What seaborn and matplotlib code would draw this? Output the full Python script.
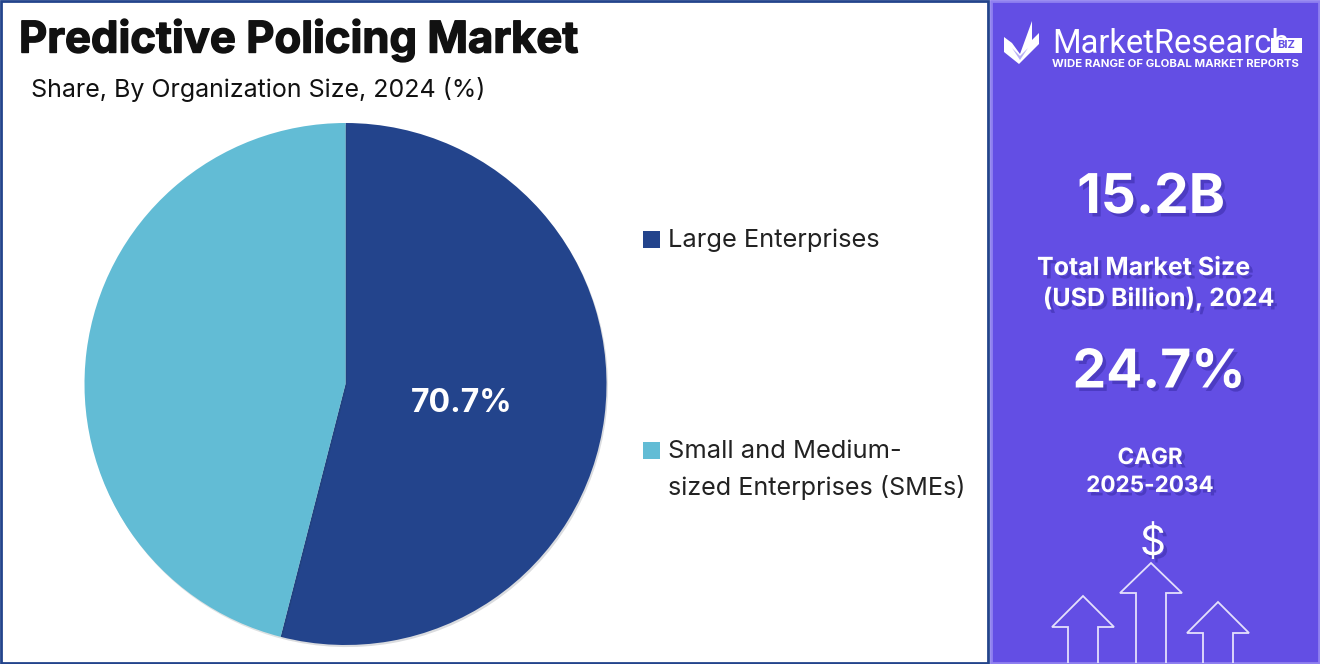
import matplotlib
matplotlib.use("Agg")
import matplotlib.pyplot as plt
import matplotlib.patheffects as pe
from matplotlib.patches import Rectangle, Polygon
import seaborn as sns

sns.set_theme(style="white")
plt.rcParams['font.family'] = ['Inter', 'DejaVu Sans']

categories = ["Large Enterprises", "Small and Medium-\nsized Enterprises (SMEs)"]
shares = [54.0, 46.0]
share_label = "70.7%"
colors = ["#23448C", "#62BCD5"]

title = "Predictive Policing Market"
subtitle = "Share, By Organization Size, 2024 (%)"
market_size = "15.2B"
market_label = "Total Market Size\n (USD Billion), 2024"
cagr = "24.7%"
cagr_label = "CAGR\n2025-2034"

W, H = 1320, 664
fig = plt.figure(figsize=(13.2, 6.64), dpi=100, facecolor="white")

# background layer in pixel coordinates
bg = fig.add_axes([0, 0, 1, 1], zorder=0)
bg.set_xlim(0, W)
bg.set_ylim(H, 0)
bg.axis("off")

bg.add_patch(Rectangle((1, 1), 987, 662, fc="white", ec="#23448C", lw=2))
bg.add_patch(Rectangle((991, 1), 328, 662, fc="#634EE4", ec="#8F80F0", lw=2))

# pie
R = 261
cx, cy = 345.5, 384
ax = fig.add_axes([(cx - R) / W, 1 - (cy + R) / H, 2 * R / W, 2 * R / H], zorder=1)
wedges, _ = ax.pie(shares, colors=colors, startangle=90, counterclock=False, radius=1,
                   wedgeprops={"linewidth": 0, "edgecolor": "none"})
ax.set_xlim(-1, 1)
ax.set_ylim(-1, 1)
for w in wedges:
    w.set_path_effects([pe.SimplePatchShadow(offset=(1, -1.5), alpha=0.15), pe.Normal()])

# top layer for the texts
top = fig.add_axes([0, 0, 1, 1], zorder=2)
top.set_xlim(0, W)
top.set_ylim(H, 0)
top.axis("off")
top.patch.set_alpha(0)

top.text(462, 403, share_label, color="white", fontsize=23, fontweight="bold", ha="center", va="center")
top.text(19, 40, title, color="#111111", fontsize=31.4, fontweight="bold", va="center",
         path_effects=[pe.withStroke(linewidth=1.0, foreground="#111111")])
top.text(31, 89, subtitle, color="#111111", fontsize=18, va="center")

# legend
legend_pos = [240, 451]
for name, col, y in zip(categories, colors, legend_pos):
    top.add_patch(Rectangle((643, y - 9), 17, 17, fc=col, ec="none"))
    first, *rest = name.split("\n")
    top.text(668, y, first, color="#222222", fontsize=18.3, va="center")
    if rest:
        top.text(668, y + 36, rest[0], color="#222222", fontsize=18.1, va="center")


# side panel
def panel_text(x, y, s, size, weight="bold", ha="center", spacing=1.15):
    top.text(x, y, s, color="white", fontsize=size, fontweight=weight, ha=ha, va="center",
             linespacing=spacing,
             path_effects=[pe.SimplePatchShadow(offset=(2.5, -2.5), shadow_rgbFace="#2A2090", alpha=0.4), pe.Normal()])


panel_text(1151, 199, market_size, 39.5)
panel_text(1037, 284, market_label, 18, ha="left", spacing=1.3)
panel_text(1159, 373, cagr, 38.5)
panel_text(1150, 472, cagr_label, 16.2, spacing=1.35)
panel_text(1153, 544, "$", 29, "normal")

# logo
top.add_patch(Polygon([(1004, 37), (1012, 43), (1020, 54), (1032, 21), (1032, 40), (1039, 33), (1039, 44), (1019, 64), (1004, 52)],
                      closed=True, fc="white", ec="none"))
top.add_patch(Polygon([(1012, 48), (1020, 60), (1028, 48), (1020, 56)], closed=True, fc="#B9B0F5", ec="none"))
top.text(1052, 44, "MarketResearch", color="white", fontsize=23.5, va="center", family="Roboto")
top.add_patch(Rectangle((1271, 38), 31, 15, fc="white", ec="none"))
top.text(1286.5, 45.5, "BIZ", color="#634EE4", fontsize=8, fontweight="bold", ha="center", va="center")
top.text(1052, 64, "WIDE RANGE OF GLOBAL MARKET REPORTS", color="white", fontsize=8.2, fontweight="bold", va="center")


# growth arrows
def arrow(x, tip, shoulder):
    pts = [(x - 15, 663), (x - 15, shoulder), (x - 31, shoulder), (x, tip), (x + 31, shoulder), (x + 15, shoulder), (x + 15, 663)]
    top.add_patch(Polygon(pts, closed=False, fill=False, ec="#E4E0FC", lw=1.3))


arrow(1083, 596, 627)
arrow(1151, 563, 593)
arrow(1218, 602, 633)

fig.savefig("out.png", dpi=100)
